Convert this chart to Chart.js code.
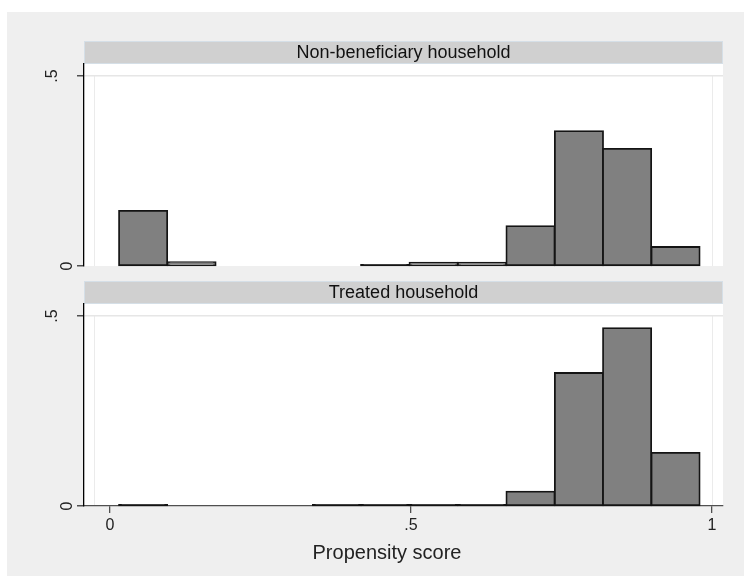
<!DOCTYPE html>
<html>
<head>
<meta charset="utf-8">
<script src="https://cdn.jsdelivr.net/npm/chart.js@4.4.1/dist/chart.umd.min.js"></script>
<style>
  html, body { margin: 0; padding: 0; background: #ffffff; }
  #frame { position: absolute; left: 7px; top: 12px; width: 737px; height: 564px; background: #efefef; }
  canvas { position: absolute; left: 0; }
  #panelTop { top: 0; }
  #panelBottom { top: 270px; }
</style>
</head>
<body>
<div id="frame"></div>
<canvas id="panelTop" width="744" height="290"></canvas>
<canvas id="panelBottom" width="744" height="306"></canvas>
<script>
// Histogram of propensity scores, one panel per household group (fraction of households per bin)
const panelTitles = ['Non-beneficiary household', 'Treated household'];
const binEdges = [0.015, 0.095, 0.176, 0.256, 0.337, 0.417, 0.497, 0.578, 0.658, 0.739, 0.819, 0.899, 0.980];
const nonBeneficiaryFraction = [0.145, 0.010, null, null, null, 0.003, 0.009, 0.009, 0.105, 0.355, 0.308, 0.050];
const treatedFraction = [0.003, null, null, null, 0.003, 0.003, 0.003, 0.003, 0.038, 0.350, 0.468, 0.140];
const xTicks = [0, 0.5, 1];
const xTickLabels = ['0', '.5', '1'];
const yTicks = [0, 0.5];
const yTickLabels = ['0', '.5'];
const xTitle = 'Propensity score';

const FONT = '"Liberation Sans", Arial, Helvetica, sans-serif';
const X_MIN = -0.0432, X_MAX = 1.0183, Y_MAX = 0.5316;
const HEADER_H = 23;
const BAR_FILL = '#808080', BAR_LINE = '#141414', BAR_LINE_W = 1.8;
// distance from the y axis to the baseline of each rotated label
const yLabelGap = { '0': 12, '.5': 27 };

function barPoints(values) {
  return values.map((v, i) => ({ x: (binEdges[i] + binEdges[i + 1]) / 2, y: v }));
}

// bars thinner than their outline collapse into a solid outline
function barFill(ctx) {
  const y = ctx.chart.scales.y;
  const v = ctx.parsed ? ctx.parsed.y : null;
  if (v == null || !y) return BAR_FILL;
  return Math.abs(y.getPixelForValue(0) - y.getPixelForValue(v)) < BAR_LINE_W ? BAR_LINE : BAR_FILL;
}

const panelDecor = {
  id: 'panelDecor',
  beforeDraw(chart, args, opts) {
    const { ctx, chartArea: a, scales: { y } } = chart;
    ctx.save();
    // plot region
    ctx.fillStyle = '#ffffff';
    ctx.fillRect(a.left, a.top, a.right - a.left, a.bottom - a.top);
    // inner plot-region edges
    const yTop = Math.round(y.getPixelForValue(0.5));
    ctx.strokeStyle = '#ebebeb';
    ctx.lineWidth = 1;
    ctx.beginPath();
    ctx.moveTo(a.left + 10.5, yTop); ctx.lineTo(a.left + 10.5, a.bottom);
    ctx.moveTo(a.right - 10.5, yTop); ctx.lineTo(a.right - 10.5, a.bottom);
    ctx.stroke();
    // group header strip
    ctx.fillStyle = '#d0d0d0';
    ctx.fillRect(a.left, a.top - HEADER_H, a.right - a.left, HEADER_H);
    ctx.strokeStyle = '#d5dfe7';
    ctx.strokeRect(a.left + 0.5, a.top - HEADER_H + 0.5, a.right - a.left - 1, HEADER_H - 1);
    ctx.fillStyle = '#111111';
    ctx.font = '18px ' + FONT;
    ctx.textAlign = 'center';
    ctx.textBaseline = 'middle';
    ctx.fillText(opts.title, (a.left + a.right) / 2, a.top - HEADER_H / 2 + 1);
    ctx.restore();
  },
  afterDraw(chart, args, opts) {
    const { ctx, chartArea: a, scales: { x, y } } = chart;
    ctx.save();
    // vertical y tick labels
    ctx.font = '16px ' + FONT;
    ctx.fillStyle = '#222222';
    ctx.textAlign = 'center';
    ctx.textBaseline = 'alphabetic';
    yTicks.forEach((v, i) => {
      const label = yTickLabels[i];
      const py = y.getPixelForValue(v);
      ctx.save();
      ctx.translate(y.right - yLabelGap[label], py);
      ctx.rotate(-Math.PI / 2);
      ctx.fillText(label, 0, 0);
      ctx.restore();
    });
    // x axis title, centred across the labelled axis block
    if (opts.showX) {
      ctx.font = '20px ' + FONT;
      ctx.textAlign = 'center';
      ctx.textBaseline = 'alphabetic';
      const left = y.right - yLabelGap['.5'] - 6;
      ctx.fillText(xTitle, (left + a.right) / 2, x.bottom - 17);
    }
    ctx.restore();
  }
};

function makePanel(canvasId, title, values, showX) {
  return new Chart(document.getElementById(canvasId), {
    type: 'bar',
    data: {
      datasets: [{
        data: barPoints(values),
        backgroundColor: barFill,
        borderColor: BAR_LINE,
        borderWidth: BAR_LINE_W,
        inflateAmount: BAR_LINE_W / 2,
        borderSkipped: false,
        barPercentage: 1,
        categoryPercentage: 1,
        clip: false
      }]
    },
    options: {
      responsive: false,
      animation: false,
      devicePixelRatio: 1,
      layout: { padding: showX ? { left: 0, right: 21, top: 34, bottom: 0 } : { left: 0, right: 21, top: 64, bottom: 24 } },
      plugins: {
        legend: { display: false },
        tooltip: { enabled: false },
        panelDecor: { title: title, showX: showX }
      },
      scales: {
        x: {
          type: 'linear',
          display: showX,
          offset: false,
          min: X_MIN,
          max: X_MAX,
          afterBuildTicks: s => { s.ticks = xTicks.map(v => ({ value: v })); },
          afterFit: s => { if (showX) s.height = 70; },
          border: { display: true, color: '#505050', width: 1.3 },
          grid: { offset: false, drawOnChartArea: false, drawTicks: true, tickLength: 7, tickColor: '#505050', lineWidth: 1.3 },
          ticks: {
            padding: 3,
            color: '#222222',
            font: { family: FONT, size: 16 },
            maxRotation: 0,
            callback: v => xTickLabels[xTicks.indexOf(v)]
          },
          title: { display: false }
        },
        y: {
          type: 'linear',
          position: 'left',
          min: 0,
          max: Y_MAX,
          afterBuildTicks: s => { s.ticks = yTicks.map(v => ({ value: v })); },
          afterFit: s => { s.width = 84; },
          border: { display: true, color: '#000000', width: 1.3 },
          grid: {
            drawOnChartArea: true,
            drawTicks: true,
            tickLength: 7,
            tickColor: '#505050',
            lineWidth: 1.5,
            color: c => (c.tick && c.tick.value === 0.5 ? '#e6e6e6' : 'rgba(0,0,0,0)')
          },
          ticks: { display: false }
        }
      }
    },
    plugins: [panelDecor]
  });
}

makePanel('panelTop', panelTitles[0], nonBeneficiaryFraction, false);
makePanel('panelBottom', panelTitles[1], treatedFraction, true);
</script>
</body>
</html>
